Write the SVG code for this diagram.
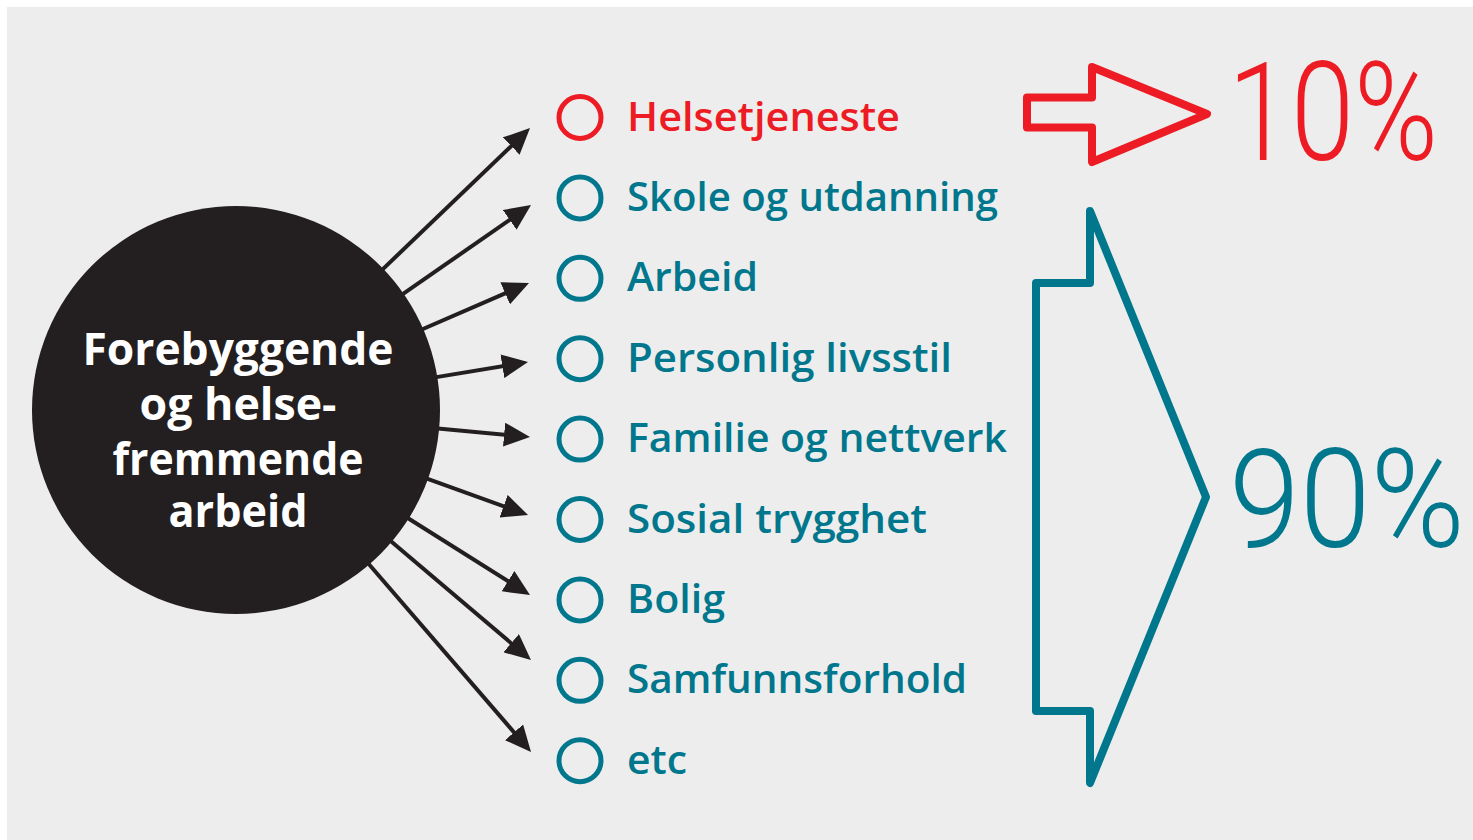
<svg xmlns="http://www.w3.org/2000/svg" width="1473" height="840" viewBox="0 0 1473 840">
<style>
.item{font-family:"Open Sans","Liberation Sans",sans-serif;font-weight:600;font-size:39px;}
.teal{fill:#00778c;}
.red{fill:#ed1c24;}
.dot{fill:none;stroke-width:5;}
.dteal{stroke:#00778c;}
.dred{stroke:#ed1c24;}
.conn{stroke:#231f20;stroke-width:4;fill:none;marker-end:url(#ah);}
.big{font-family:Roboto,"Liberation Sans",sans-serif;font-weight:300;font-size:138px;}
.hub{font-family:"Open Sans","Liberation Sans",sans-serif;font-weight:700;font-size:45px;fill:#ffffff;text-anchor:middle;}
.outline{fill:none;stroke-width:8;stroke-linejoin:round;}
</style>
<defs>
<marker id="ah" markerUnits="userSpaceOnUse" markerWidth="26" markerHeight="24" viewBox="0 0 26 24" refX="20" refY="12" orient="auto">
<path d="M0,0 L26,12 L0,24 Z" fill="#231f20"/>
</marker>
</defs>
<rect x="0" y="0" width="1473" height="840" fill="#ffffff"/>
<rect x="7" y="7" width="1466" height="833" fill="#ededed"/>
<g id="connectors">
<line class="conn" x1="380.3" y1="271.6" x2="525.7" y2="132.2"/>
<line class="conn" x1="400.2" y1="295.9" x2="526.1" y2="208.4"/>
<line class="conn" x1="419.5" y1="330.5" x2="523.5" y2="285.4"/>
<line class="conn" x1="433.4" y1="377.6" x2="522.1" y2="363.0"/>
<line class="conn" x1="435.2" y1="428.3" x2="524.0" y2="436.5"/>
<line class="conn" x1="424.2" y1="477.7" x2="522.4" y2="513.0"/>
<line class="conn" x1="405.3" y1="516.5" x2="524.9" y2="591.8"/>
<line class="conn" x1="388.6" y1="539.3" x2="526.4" y2="656.1"/>
<line class="conn" x1="366.6" y1="561.5" x2="527.1" y2="747.5"/>
</g>
<g id="hub">
<circle cx="236" cy="410" r="204" fill="#231f20"/>
<text class="hub" x="238" y="365" textLength="311" lengthAdjust="spacingAndGlyphs">Forebyggende</text>
<text class="hub" x="238" y="420" textLength="197" lengthAdjust="spacingAndGlyphs">og helse-</text>
<text class="hub" x="238" y="475" textLength="251" lengthAdjust="spacingAndGlyphs">fremmende</text>
<text class="hub" x="238" y="527" textLength="139" lengthAdjust="spacingAndGlyphs">arbeid</text>
</g>
<g id="item-helsetjeneste">
<circle class="dot dred" cx="580" cy="117.5" r="21"/>
<text class="item red" x="627" y="130.5" textLength="273" lengthAdjust="spacingAndGlyphs">Helsetjeneste</text>
</g>
<g id="item-skole">
<circle class="dot dteal" cx="580" cy="197.9" r="21"/>
<text class="item teal" x="627" y="210.9" textLength="371" lengthAdjust="spacingAndGlyphs">Skole og utdanning</text>
</g>
<g id="item-arbeid">
<circle class="dot dteal" cx="580" cy="278.3" r="21"/>
<text class="item teal" x="627" y="291.3" textLength="131" lengthAdjust="spacingAndGlyphs">Arbeid</text>
</g>
<g id="item-personlig">
<circle class="dot dteal" cx="580" cy="358.7" r="21"/>
<text class="item teal" x="627" y="371.7" textLength="325" lengthAdjust="spacingAndGlyphs">Personlig livsstil</text>
</g>
<g id="item-familie">
<circle class="dot dteal" cx="580" cy="439.1" r="21"/>
<text class="item teal" x="627" y="452.1" textLength="380" lengthAdjust="spacingAndGlyphs">Familie og nettverk</text>
</g>
<g id="item-sosial">
<circle class="dot dteal" cx="580" cy="519.5" r="21"/>
<text class="item teal" x="627" y="532.5" textLength="300" lengthAdjust="spacingAndGlyphs">Sosial trygghet</text>
</g>
<g id="item-bolig">
<circle class="dot dteal" cx="580" cy="599.9" r="21"/>
<text class="item teal" x="627" y="612.9" textLength="98" lengthAdjust="spacingAndGlyphs">Bolig</text>
</g>
<g id="item-samfunn">
<circle class="dot dteal" cx="580" cy="680.3" r="21"/>
<text class="item teal" x="627" y="693.3" textLength="340" lengthAdjust="spacingAndGlyphs">Samfunnsforhold</text>
</g>
<g id="item-etc">
<circle class="dot dteal" cx="580" cy="760.7" r="21"/>
<text class="item teal" x="627" y="773.7" textLength="60" lengthAdjust="spacingAndGlyphs">etc</text>
</g>
<g id="arrow-10">
<path class="outline" stroke="#ed1c24" d="M1027,97.5 L1092,97.5 L1092,67 L1207,114 L1092,162 L1092,127.5 L1027,127.5 Z"/>
<text class="big red" x="1228" y="160" textLength="210" lengthAdjust="spacingAndGlyphs">10%</text>
</g>
<g id="arrow-90">
<path class="outline" stroke="#00778c" d="M1036,283 L1090,283 L1090,211 L1206,497 L1090,783 L1090,711 L1036,711 Z"/>
<text class="big teal" x="1229" y="547" textLength="236" lengthAdjust="spacingAndGlyphs">90%</text>
</g>
</svg>
